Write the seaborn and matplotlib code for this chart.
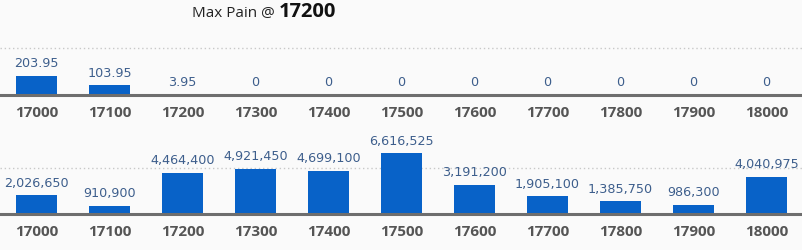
import matplotlib
matplotlib.use("Agg")
import matplotlib.pyplot as plt
import seaborn as sns
import pandas as pd

strikes = ["17000", "17100", "17200", "17300", "17400", "17500", "17600", "17700", "17800", "17900", "18000"]
pain_values = [203.95, 103.95, 3.95, 0, 0, 0, 0, 0, 0, 0, 0]
pain_labels = ["203.95", "103.95", "3.95", "0", "0", "0", "0", "0", "0", "0", "0"]
oi_values = [2026650, 910900, 4464400, 4921450, 4699100, 6616525, 3191200, 1905100, 1385750, 986300, 4040975]
max_pain_strike = "17200"

sns.set_theme(style="white")
plt.rcParams["font.family"] = ["Open Sans", "DejaVu Sans"]

BG = "#fafafa"
BAR = "#0862c8"
LBL = "#3d5e8c"
TICK = "#555555"
AXIS = "#6e6e6e"
GRID = "#c8c8c8"

W, H = 803, 250
fig = plt.figure(figsize=(W / 100, H / 100), dpi=100, facecolor=BG)

def px_axes(left, top, right, bottom):
    return fig.add_axes([left / W, (H - bottom) / H, (right - left) / W, (bottom - top) / H])

def draw(ax, values, labels, grid_val, ylim_top):
    df = pd.DataFrame({"strike": strikes, "value": values})
    sns.barplot(data=df, x="strike", y="value", ax=ax, color=BAR, width=0.55,
                saturation=1, edgecolor="none")
    ax.set_facecolor(BG)
    ax.set_xlim(-0.5, len(strikes) - 0.5)
    ax.set_ylim(0, ylim_top)
    ax.axhline(grid_val, color=GRID, lw=1, ls=(0, (1, 2)), zorder=0)
    for s in ["top", "right", "left"]:
        ax.spines[s].set_visible(False)
    ax.spines["bottom"].set_color(AXIS)
    ax.spines["bottom"].set_linewidth(2.2)
    ax.set_yticks([])
    ax.set_xlabel("")
    ax.set_ylabel("")
    ax.tick_params(axis="x", length=0, pad=8, labelsize=11, labelcolor=TICK)
    for t in ax.get_xticklabels():
        t.set_fontweight("bold")
    for i, (v, lab) in enumerate(zip(values, labels)):
        ax.annotate(lab, (i, v), xytext=(0, 4), textcoords="offset points",
                    ha="center", va="bottom", color=LBL, fontsize=9.2,
                    family="DejaVu Sans", clip_on=False)

ax1 = px_axes(0, 40, W, 95)
draw(ax1, pain_values, pain_labels, 500, 500 * 55 / 47)

ax2 = px_axes(0, 144, W, 214)
draw(ax2, oi_values, [f"{v:,}" for v in oi_values], 5_000_000, 5_000_000 * 70 / 46)

xm = 279 / W
fig.text(xm, 1 - 13 / H, "Max Pain @ ", ha="right", va="center", fontsize=11, color="#222222")
fig.text(xm, 1 - 12 / H, max_pain_strike, ha="left", va="center", fontsize=14.5, fontweight="bold", color="#111111")

fig.savefig("out.png", dpi=100, facecolor=BG)
